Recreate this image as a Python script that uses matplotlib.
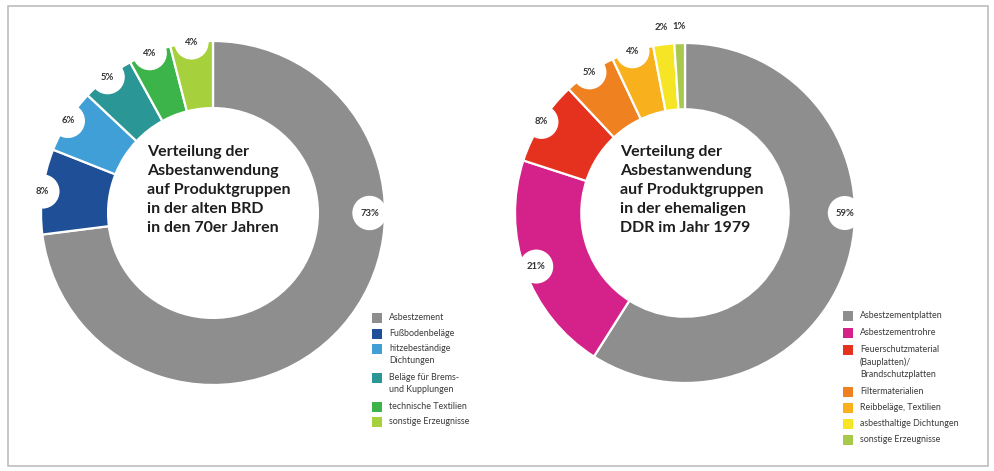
import numpy as np
import matplotlib
matplotlib.use("Agg")
import matplotlib.pyplot as plt
from matplotlib.patches import Circle, Rectangle

# ---------------- data ----------------
left_labels = ["Asbestzement", "Fußbodenbeläge", "hitzebeständige\nDichtungen",
               "Beläge für Brems-\nund Kupplungen", "technische Textilien",
               "sonstige Erzeugnisse"]
left_values = [73, 8, 6, 5, 4, 4]
left_colors = ["#8e8e8e", "#1f4f96", "#3f9fd6", "#2a9696", "#3cb44a", "#a6d13c"]
left_title = "Verteilung der\nAsbestanwendung\nauf Produktgruppen\nin der alten BRD\nin den 70er Jahren"

right_labels = ["Asbestzementplatten", "Asbestzementrohre",
                "Feuerschutzmaterial\n(Bauplatten)/\nBrandschutzplatten",
                "Filtermaterialien", "Reibbeläge, Textilien",
                "asbesthaltige Dichtungen", "sonstige Erzeugnisse"]
right_values = [59, 21, 8, 5, 4, 2, 1]
right_colors = ["#8e8e8e", "#d4228a", "#e5321f", "#ef8120", "#f8b01c", "#f6e524", "#a9c94c"]
right_title = "Verteilung der\nAsbestanwendung\nauf Produktgruppen\nin der ehemaligen\nDDR im Jahr 1979"

W, H = 995, 471
fig = plt.figure(figsize=(W / 100, H / 100), dpi=100)
fig.patch.set_facecolor("white")

# overlay axes in pixel coordinates (frame, legends)
ov = fig.add_axes([0, 0, 1, 1])
ov.set_xlim(0, W)
ov.set_ylim(H, 0)
ov.axis("off")
ov.add_patch(Rectangle((8, 6), 980, 460, fill=False, edgecolor="#bdbdbd", lw=1.2))

FONT = "Lato"


def donut(cx, cy, R, values, colors, title, tx, gray_label_r, label_r_overrides):
    ax = fig.add_axes([(cx - R) / W, (H - cy - R) / H, 2 * R / W, 2 * R / H])
    ax.pie(values, colors=colors, startangle=90, counterclock=False, radius=1.0,
           wedgeprops=dict(width=0.39, edgecolor="white", linewidth=1.6))
    ax.set_xlim(-1, 1)
    ax.set_ylim(-1, 1)
    ax.set_aspect("equal")
    ax.axis("off")
    total = float(sum(values))
    cum = 0.0
    for i, v in enumerate(values):
        a0 = 90 - 360 * cum / total
        a1 = 90 - 360 * (cum + v) / total
        cum += v
        mid = np.deg2rad((a0 + a1) / 2)
        txt = f"{v}%"
        if i == 0:
            ang = 0.0
            r = gray_label_r
        else:
            ang = mid
            r = label_r_overrides.get(i, 1.0)
        x, y = r * np.cos(ang), r * np.sin(ang)
        if r < 1.06:
            ax.add_patch(Circle((x, y), 0.1, facecolor="white", edgecolor="none", zorder=5))
        ax.text(x, y, txt, ha="center", va="center", fontsize=6.8, fontweight="bold",
                color="#333333", family=FONT, zorder=6)
    ov.text(tx, 145, title, ha="left", va="top", fontsize=11.5, fontweight="bold",
            color="#1e1e1e", family=FONT, linespacing=1.45)


donut(213, 213, 172, left_values, left_colors, left_title, 147, 0.91, {})
donut(685, 213, 170, right_values, right_colors, right_title, 620, 0.94,
      {1: 0.93, 5: 1.1, 6: 1.1})


def legend(x, y0, labels, colors, steps):
    y = y0
    for lab, col, st in zip(labels, colors, steps):
        ov.add_patch(Rectangle((x, y - 5), 10, 10, facecolor=col, edgecolor="none"))
        ov.text(x + 17, y - 5, lab, ha="left", va="top", fontsize=6.4, color="#3a3a3a",
                family=FONT, linespacing=1.45)
        y += st


legend(372, 318, left_labels, left_colors, [16, 15, 29, 29, 15, 15])
legend(843, 316, right_labels, right_colors, [17, 17, 42, 16, 16, 16, 16])

fig.savefig("out.png", dpi=100, facecolor="white")
